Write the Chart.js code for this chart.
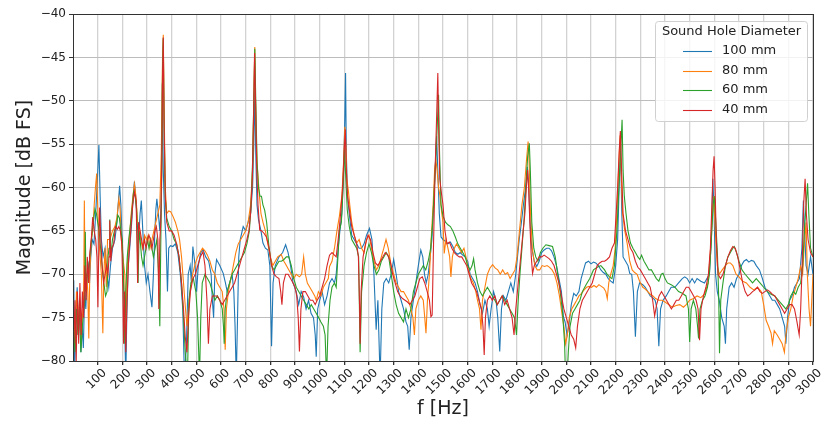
<!DOCTYPE html>
<html>
<head>
<meta charset="utf-8">
<script src="https://cdn.jsdelivr.net/npm/chart.js@4/dist/chart.umd.min.js"></script>
<style>
html,body{margin:0;padding:0;background:#fff;}
#wrap{width:827px;height:421px;}
</style>
</head>
<body>
<div id="wrap"><canvas id="c" width="827" height="421"></canvas></div>
<script>
// ---- data (frequency Hz, magnitude dB FS) ----
const seriesNames = ["100 mm", "80 mm", "60 mm", "40 mm"];
const xTicks = [100,200,300,400,500,600,700,800,900,1000,1100,1200,1300,1400,1500,1600,1700,1800,1900,2000,2100,2200,2300,2400,2500,2600,2700,2800,2900,3000];
const yTicks = [-80,-75,-70,-65,-60,-55,-50,-45,-40];

const s100 = [[3,-70.7],[7,-81],[12,-74],[17,-71.5],[22,-77],[27,-73],[32,-79],[37,-76],[42,-78.5],[47,-72],[52,-74],[57,-70],[62,-69],[67,-71],[72,-68],[78,-66],[85,-66.5],[92,-63],[99,-59],[105,-55.1],[110,-61],[115,-66],[122,-68],[130,-67],[138,-70],[145,-71.5],[152,-69],[160,-67],[170,-66],[178,-64],[183,-62],[189,-59.8],[194,-62],[199,-66],[204,-70],[208,-74],[214,-82],[218,-75],[224,-69],[230,-67],[238,-64],[244,-61],[249,-59.3],[254,-61],[260,-64],[266,-66],[272,-63],[277,-61.5],[283,-65],[290,-69],[297,-71],[304,-70],[312,-72],[320,-73.8],[326,-70],[332,-65],[336,-62.5],[340,-61.3],[346,-63],[352,-65],[358,-62],[362,-48],[366,-58],[371,-63],[377,-66],[383,-72],[388,-67],[395,-66.7],[405,-66.8],[415,-66.5],[425,-67.5],[435,-70],[445,-74],[452,-82],[460,-78],[467,-70],[475,-69],[480,-71],[486,-66.8],[495,-69],[501,-72],[508,-69],[518,-67.5],[528,-67.2],[538,-68],[550,-68.5],[560,-70],[565,-73],[570,-75],[575,-70],[582,-68.3],[595,-69],[609,-69.9],[618,-71],[625,-72],[635,-71],[645,-70],[652,-72],[657,-76],[662,-82],[667,-75],[672,-68],[678,-66],[690,-64.5],[700,-65],[710,-64],[720,-63],[728,-60],[733,-55],[737,-49],[741,-56],[746,-62],[752,-63.7],[762,-65],[770,-66.4],[780,-67],[790,-67.2],[798,-69],[805,-78.3],[811,-71],[820,-69],[835,-68],[850,-67.5],[862,-66.6],[872,-67.5],[882,-69],[892,-71],[905,-72],[915,-73.5],[925,-72],[935,-72.6],[945,-74],[955,-73],[965,-74.5],[975,-75],[982,-77],[986,-79.5],[992,-74],[1000,-73],[1010,-72],[1020,-73.5],[1030,-72.5],[1040,-71],[1050,-70.5],[1060,-71],[1067,-70],[1075,-67],[1082,-65],[1090,-63],[1097,-58],[1102,-52],[1105,-46.8],[1108,-56],[1113,-61],[1120,-63],[1130,-65.5],[1140,-66],[1150,-66.5],[1160,-67],[1170,-67],[1180,-66.5],[1190,-65.5],[1202,-64.7],[1212,-66],[1220,-70],[1229,-76.4],[1236,-73],[1245,-82],[1252,-74],[1260,-71],[1270,-70.5],[1280,-71],[1290,-70],[1300,-68.3],[1310,-70],[1320,-72],[1330,-73],[1340,-74],[1350,-75.5],[1357,-76],[1363,-78.7],[1370,-75],[1380,-73],[1390,-71],[1400,-69],[1410,-67.2],[1418,-68],[1425,-70],[1432,-71],[1440,-70],[1448,-68],[1455,-66],[1462,-62],[1468,-58],[1474,-54.1],[1479,-58],[1485,-63],[1492,-65.7],[1500,-66],[1510,-66.2],[1520,-66.5],[1530,-66.3],[1540,-66.8],[1550,-67.5],[1560,-67.7],[1570,-67.5],[1580,-67.8],[1590,-68],[1600,-68.5],[1610,-70],[1620,-70.5],[1630,-71],[1640,-72],[1650,-73.5],[1660,-74.5],[1670,-73],[1680,-74],[1687,-76],[1695,-74],[1705,-72],[1715,-73],[1722,-75],[1730,-78.9],[1737,-74],[1745,-72.5],[1755,-73],[1765,-72],[1775,-71],[1785,-72],[1795,-70],[1802,-68],[1809,-66],[1818,-64],[1826,-62],[1835,-60],[1842,-57.6],[1848,-60],[1853,-64],[1860,-67],[1870,-68.5],[1880,-69.1],[1890,-68.5],[1900,-67.5],[1910,-67.2],[1920,-67],[1930,-67],[1940,-67.3],[1950,-68],[1960,-69],[1970,-70.5],[1980,-72],[1988,-74.9],[1995,-75.5],[2003,-77],[2010,-76],[2020,-73.5],[2030,-72.2],[2040,-72.5],[2051,-72],[2060,-70.5],[2070,-69.5],[2078,-68.7],[2090,-68.5],[2100,-68.8],[2110,-68.6],[2119,-68.7],[2130,-69],[2140,-69.5],[2150,-69.8],[2160,-70],[2170,-70.5],[2180,-70.8],[2190,-71],[2200,-69],[2208,-66],[2214,-60],[2220,-55],[2224,-62],[2230,-68],[2240,-68.5],[2250,-69],[2257,-69.9],[2265,-70],[2272,-72],[2280,-77.2],[2288,-72],[2297,-71],[2310,-71.2],[2320,-71.5],[2330,-72],[2340,-72.5],[2350,-72.7],[2360,-73],[2368,-74],[2375,-78.3],[2382,-74],[2392,-73],[2405,-72.5],[2415,-72],[2425,-71.5],[2440,-71.5],[2455,-71],[2470,-70.5],[2480,-70.3],[2490,-70.5],[2500,-71],[2510,-70.5],[2520,-71],[2530,-70.5],[2545,-70.8],[2560,-71],[2570,-70.5],[2580,-70],[2588,-66],[2594,-59],[2599,-63],[2605,-70],[2612,-72],[2620,-73],[2630,-75],[2640,-76],[2645,-78],[2650,-74],[2660,-71.5],[2670,-71],[2680,-71.5],[2690,-70.5],[2700,-70],[2710,-69],[2720,-68.5],[2730,-68.3],[2740,-68.6],[2750,-68.4],[2760,-68.5],[2770,-69],[2783,-69.5],[2795,-70.5],[2805,-71.5],[2815,-72],[2825,-72.5],[2835,-73],[2845,-73],[2855,-73.5],[2865,-74],[2875,-75],[2885,-76],[2890,-78],[2897,-75],[2905,-73],[2915,-72.5],[2925,-71.5],[2935,-71],[2945,-70.5],[2955,-67],[2961,-61.5],[2966,-65],[2972,-69],[2980,-70],[2990,-68],[3000,-70]];

const s80 = [[3,-74],[8,-78],[14,-72],[20,-76],[26,-73],[32,-78],[38,-75],[43,-73],[46,-61.5],[49,-72],[55,-70],[60,-72],[64,-77.4],[68,-70],[74,-66],[80,-65],[86,-62],[91,-60],[96,-58.4],[100,-62],[105,-66],[110,-68],[115,-70],[121,-76.8],[125,-70],[130,-67],[135,-71.5],[140,-66],[150,-66],[160,-65],[170,-64.5],[178,-63.5],[186,-61.3],[191,-62.5],[196,-66],[202,-68],[210,-70],[215,-75],[220,-69],[228,-66],[236,-63],[243,-61],[249,-59.6],[255,-61],[262,-64],[268,-64.5],[275,-66],[282,-67],[290,-65.5],[298,-66],[305,-65.5],[312,-67],[320,-66],[328,-65],[336,-64],[344,-63],[352,-62],[358,-56],[363,-45],[366,-42.4],[369,-50],[374,-60],[380,-63],[388,-62.7],[396,-62.8],[405,-63.3],[415,-64],[425,-65],[432,-66],[440,-68],[448,-71],[456,-74],[462,-76],[468,-74],[475,-72],[485,-70],[495,-68.8],[505,-68],[515,-67.5],[525,-67],[535,-67.3],[545,-67.8],[555,-68.5],[565,-69.5],[575,-70],[585,-71],[595,-71.5],[605,-72],[612,-74],[617,-78.7],[622,-74],[630,-72],[640,-70.5],[650,-69],[660,-67.5],[670,-66.5],[680,-66],[690,-65.5],[700,-65],[710,-64],[720,-62],[728,-58],[733,-50],[737,-43.8],[741,-52],[746,-57],[750,-58.7],[756,-61],[762,-63],[770,-64],[780,-65],[790,-66.5],[800,-68],[810,-69],[820,-68.5],[830,-68],[844,-67.7],[855,-68.5],[865,-69],[875,-69.5],[885,-70],[895,-70.5],[905,-70],[918,-70.3],[927,-70],[935,-68],[942,-70],[950,-71],[960,-71.5],[970,-72],[980,-72.5],[986,-73],[995,-72],[1005,-72.5],[1015,-71.5],[1025,-71],[1035,-70.5],[1040,-69.1],[1050,-68.5],[1060,-67],[1070,-65],[1080,-63.3],[1090,-61],[1097,-57],[1102,-53],[1106,-55],[1110,-59],[1116,-60.3],[1122,-62],[1130,-64],[1140,-65.5],[1150,-66.4],[1160,-66],[1170,-67],[1180,-67.5],[1190,-66],[1200,-65.5],[1210,-67],[1220,-68.5],[1230,-69.5],[1240,-69],[1250,-68],[1260,-67],[1269,-66],[1278,-67],[1290,-69],[1300,-70],[1310,-71],[1320,-71.5],[1330,-72],[1340,-72],[1350,-72.5],[1360,-73],[1370,-74],[1378,-75],[1384,-77],[1390,-74],[1400,-73],[1410,-72.5],[1420,-73],[1426,-75],[1431,-76.8],[1437,-73],[1445,-70],[1452,-66],[1460,-62],[1466,-58],[1471,-56.8],[1476,-58],[1482,-60],[1488,-61],[1495,-63],[1500,-64],[1505,-67.6],[1512,-66],[1520,-67],[1527,-68],[1532,-70.3],[1538,-68],[1546,-67],[1555,-66.5],[1565,-67],[1575,-67.5],[1585,-67],[1593,-68],[1603,-69.5],[1613,-70.5],[1623,-71],[1633,-72],[1640,-73],[1648,-74],[1654,-76.4],[1660,-73],[1670,-71.5],[1680,-70],[1690,-69.3],[1701,-68.9],[1712,-69.3],[1722,-69.5],[1732,-70],[1742,-69.5],[1752,-70],[1762,-69.8],[1772,-70.5],[1782,-70],[1792,-69.5],[1800,-68],[1810,-65],[1820,-62],[1830,-60],[1838,-57],[1845,-54.7],[1849,-57],[1855,-63],[1862,-67],[1872,-69],[1882,-69.5],[1892,-69.5],[1902,-69],[1912,-69.1],[1922,-69],[1932,-69.2],[1942,-69.5],[1952,-70],[1962,-71],[1972,-72.5],[1982,-74.5],[1990,-76],[1997,-78],[2004,-77],[2012,-75],[2022,-74],[2032,-73.5],[2042,-73],[2051,-72.5],[2062,-72.2],[2072,-71.8],[2082,-71.5],[2092,-71.4],[2102,-71.5],[2112,-71.3],[2122,-71.5],[2132,-71.2],[2142,-71.4],[2152,-71.6],[2160,-72],[2166,-72.8],[2172,-71],[2180,-70],[2190,-69],[2198,-67],[2205,-63],[2212,-58],[2218,-54],[2222,-58],[2228,-63],[2237,-65],[2247,-66.5],[2257,-68.5],[2267,-69.5],[2277,-69.8],[2287,-70],[2297,-70.8],[2310,-71.5],[2320,-71.7],[2330,-72],[2340,-72.3],[2351,-72.5],[2362,-72.8],[2375,-73],[2388,-73],[2400,-73.2],[2415,-73.5],[2430,-73.8],[2445,-73.6],[2460,-73.5],[2475,-73.8],[2486,-73.5],[2500,-73],[2515,-72.8],[2530,-72.5],[2545,-72.7],[2560,-72.3],[2575,-71],[2585,-67],[2592,-63],[2598,-61],[2604,-65],[2612,-69],[2620,-70],[2632,-69.5],[2645,-69],[2655,-68.7],[2665,-68.7],[2675,-69],[2688,-70],[2700,-70.3],[2715,-70.8],[2730,-71],[2745,-71.5],[2760,-71.8],[2775,-71.5],[2790,-72],[2800,-73.5],[2810,-75.3],[2820,-76],[2830,-76.8],[2836,-78],[2843,-76.5],[2855,-77],[2865,-77.5],[2875,-78],[2884,-79],[2890,-77],[2900,-75],[2910,-74],[2920,-72.5],[2930,-71.5],[2940,-70.5],[2950,-69.1],[2958,-70],[2966,-66],[2972,-64],[2977,-70],[2984,-74],[2990,-76],[3000,-70]];

const s60 = [[3,-76],[8,-79],[14,-74],[20,-77],[26,-74],[32,-79],[38,-76],[44,-74],[48,-73],[50,-65.1],[53,-72],[58,-70],[62,-70],[68,-68],[75,-66],[82,-64],[89,-62.5],[95,-63],[100,-64],[106,-65],[112,-67],[118,-69],[125,-71],[132,-72.5],[138,-72],[142,-68],[146,-67],[149,-63.7],[153,-68],[160,-66],[168,-65],[175,-64.5],[182,-63.2],[188,-63.5],[194,-65],[200,-66],[206,-72],[210,-78],[214,-72],[220,-68],[226,-66],[234,-64],[241,-62],[246,-60.5],[252,-61],[258,-62.5],[264,-71],[268,-65],[272,-66],[278,-68],[284,-69],[290,-68],[296,-67],[302,-66],[308,-67],[314,-66],[320,-67],[326,-68],[333,-67],[340,-66],[347,-70],[352,-76],[356,-66],[360,-58],[363,-46],[366,-42.8],[369,-52],[374,-61],[380,-63.5],[390,-64.5],[400,-65],[410,-66],[420,-66.5],[430,-68],[440,-71],[448,-75],[455,-79],[464,-82],[470,-73],[478,-71],[488,-70.5],[498,-72],[505,-75],[513,-82],[518,-75],[524,-71],[535,-70],[545,-70.5],[555,-71],[565,-72],[575,-73],[585,-72.5],[595,-73],[605,-74],[610,-76],[613,-78],[617,-74],[625,-72],[635,-71],[645,-70],[655,-69.5],[665,-69],[675,-68.5],[685,-68],[695,-67.5],[705,-66.5],[715,-65],[722,-62],[728,-57],[733,-50],[737,-44],[741,-50],[746,-57],[752,-60],[758,-61],[764,-61],[770,-62],[777,-62.6],[785,-64],[795,-67],[805,-69],[815,-69.5],[825,-69],[835,-68.5],[845,-68.5],[855,-68.3],[865,-68],[875,-68],[885,-69],[895,-70.5],[905,-71.5],[915,-72],[925,-72.5],[935,-73],[946,-73.5],[956,-74],[966,-73.5],[976,-74],[986,-74.5],[996,-75],[1005,-75.5],[1015,-76],[1022,-77],[1028,-82],[1034,-76],[1042,-73],[1050,-71.5],[1060,-71],[1067,-71.5],[1074,-68],[1080,-65],[1088,-64],[1095,-60],[1101,-55.6],[1106,-59],[1112,-62.6],[1120,-64.5],[1130,-66],[1140,-66.5],[1150,-67],[1158,-68],[1164,-79],[1170,-72],[1180,-69],[1190,-67.5],[1200,-66.5],[1210,-67.5],[1220,-69],[1230,-70],[1240,-69.5],[1250,-68.5],[1260,-68],[1270,-67.5],[1280,-68],[1290,-70],[1300,-72],[1310,-73.5],[1320,-74.5],[1330,-75],[1340,-75.5],[1350,-74],[1360,-75],[1370,-74],[1380,-72],[1390,-71],[1400,-70],[1410,-69.5],[1420,-69],[1430,-69.5],[1440,-68.5],[1450,-67],[1458,-64],[1465,-60],[1472,-56],[1478,-52],[1482,-49.3],[1486,-56],[1492,-62],[1500,-63.3],[1510,-64],[1520,-64.3],[1530,-64.5],[1540,-65],[1550,-65.7],[1560,-66.5],[1570,-67],[1580,-67.5],[1590,-68],[1600,-69],[1610,-69.5],[1618,-69],[1624,-68.2],[1630,-69.5],[1640,-71],[1650,-72],[1660,-72.5],[1670,-72],[1680,-71.5],[1690,-72],[1700,-72.5],[1710,-73],[1720,-73.5],[1730,-73],[1740,-72.5],[1750,-73],[1760,-73.5],[1770,-74],[1780,-74.5],[1790,-75],[1798,-77],[1805,-73],[1812,-70],[1820,-67],[1828,-64],[1836,-60],[1843,-56.5],[1850,-54.9],[1854,-58],[1860,-64],[1868,-67],[1876,-68],[1885,-68.5],[1895,-67.5],[1905,-67],[1917,-66.6],[1930,-66.7],[1944,-66.8],[1955,-68],[1965,-70],[1975,-72],[1985,-74.5],[1993,-78],[1997,-82],[2003,-82],[2008,-79],[2015,-76],[2025,-74.5],[2035,-74],[2045,-73.5],[2055,-73],[2065,-72],[2080,-71.2],[2095,-70.5],[2110,-69.5],[2125,-69.2],[2140,-69],[2155,-69.5],[2165,-70],[2175,-70.3],[2185,-70.5],[2195,-69],[2205,-65],[2213,-60],[2220,-56],[2226,-52.2],[2230,-58],[2235,-61],[2242,-63],[2250,-65],[2260,-66.4],[2270,-67],[2280,-67.5],[2290,-68],[2298,-68.3],[2305,-67.8],[2315,-68.5],[2325,-69],[2335,-69.5],[2345,-69.5],[2355,-70],[2365,-70.5],[2375,-70.8],[2385,-70],[2392,-69.9],[2400,-70.5],[2410,-71],[2425,-71.2],[2440,-71.5],[2455,-72],[2470,-72.2],[2485,-72.5],[2495,-74],[2500,-77.8],[2506,-74],[2515,-73],[2525,-74],[2532,-76],[2536,-77.4],[2542,-74],[2552,-73],[2562,-72.5],[2572,-71.5],[2580,-70],[2588,-66],[2595,-62],[2600,-61],[2606,-64],[2613,-68],[2618,-73],[2621,-79.1],[2626,-73],[2635,-71],[2645,-69],[2655,-68],[2665,-67.5],[2675,-67],[2681,-66.8],[2690,-67.5],[2700,-68.5],[2712,-69.5],[2725,-70],[2740,-70.5],[2755,-71],[2770,-70.5],[2785,-71],[2800,-71.5],[2815,-72],[2830,-72.3],[2845,-72.5],[2860,-73],[2875,-73.5],[2890,-74],[2900,-73.5],[2910,-72.5],[2920,-72],[2930,-72.3],[2940,-71.5],[2950,-71],[2958,-69],[2965,-65],[2972,-62],[2978,-59.5],[2983,-63],[2990,-67],[3000,-68]];

const s40 = [[3,-78],[8,-73],[13,-80],[18,-72],[23,-78],[28,-71],[33,-77],[38,-72],[43,-75],[48,-69],[53,-73],[58,-68],[63,-71],[68,-67.6],[74,-66],[80,-63.4],[86,-65],[92,-66],[97,-68],[101,-73.8],[105,-66],[108,-62.3],[113,-66],[118,-69],[124,-71],[130,-70],[136,-69],[142,-70],[146,-68],[149,-63.8],[153,-68.5],[158,-67],[165,-66.5],[172,-64.5],[180,-64.8],[186,-64.5],[192,-65],[198,-66.5],[202,-72],[205,-78],[209,-72],[214,-79],[219,-73],[226,-68],[234,-65],[242,-62],[249,-60.5],[256,-61.5],[262,-71],[266,-64],[272,-65],[278,-66],[284,-67],[290,-66],[296,-67],[302,-66],[308,-65.5],[314,-66],[320,-67],[326,-66],[332,-65],[338,-64.5],[344,-66],[348,-74],[352,-66],[356,-64],[360,-57],[363,-47],[366,-42.7],[369,-52],[374,-61],[380,-64],[390,-65],[400,-65],[410,-65.5],[420,-66.5],[430,-68],[440,-71],[448,-74],[455,-77.2],[462,-79],[468,-75],[476,-72],[486,-70.5],[496,-70],[506,-69],[516,-68],[527,-67.4],[535,-69],[543,-73],[549,-78],[555,-74],[565,-72.5],[575,-72.5],[585,-72.5],[595,-73],[605,-73.5],[615,-73],[625,-72.5],[635,-72],[645,-71.5],[655,-71],[665,-70],[675,-69],[685,-68],[695,-67],[705,-66],[713,-65],[720,-63],[727,-59],[732,-52],[736,-44.5],[740,-50],[745,-58],[750,-62],[757,-64.9],[765,-65],[775,-65.3],[784,-65.7],[795,-67],[805,-69],[815,-70],[825,-70.3],[835,-70.5],[842,-72],[847,-73.5],[853,-71],[862,-70],[872,-70],[882,-70.5],[892,-71],[900,-71.5],[907,-72.5],[913,-75],[918,-78.9],[924,-74],[932,-72],[942,-72],[952,-72.5],[962,-73],[972,-73],[982,-73.5],[990,-73],[1000,-72.5],[1010,-71.5],[1020,-70.5],[1030,-69],[1040,-67.8],[1050,-67.5],[1060,-67.8],[1067,-68],[1075,-66],[1085,-63],[1093,-60],[1099,-56],[1104,-53.3],[1108,-58],[1113,-61],[1120,-62.5],[1130,-64.5],[1140,-65.5],[1150,-66.5],[1157,-68],[1162,-74],[1164,-78],[1168,-72],[1176,-68],[1186,-66.5],[1196,-65.5],[1206,-66],[1216,-67.5],[1226,-68.7],[1236,-69],[1246,-68.5],[1256,-68],[1266,-67.5],[1276,-67.8],[1286,-68.5],[1296,-70],[1306,-71],[1316,-72],[1326,-72.5],[1336,-72.8],[1346,-73],[1356,-73.2],[1366,-73.5],[1376,-73],[1386,-72.5],[1396,-71.5],[1406,-70.5],[1416,-70.3],[1426,-71],[1436,-72],[1445,-73],[1451,-74.9],[1456,-74.7],[1462,-66],[1468,-58],[1474,-52],[1479,-46.8],[1483,-54],[1487,-59],[1492,-60.3],[1500,-62],[1508,-65],[1516,-66.5],[1526,-66.3],[1536,-67],[1546,-67.5],[1556,-67.8],[1566,-68],[1576,-68],[1586,-68.5],[1596,-69],[1606,-70],[1616,-71],[1626,-71.5],[1636,-72],[1646,-73],[1656,-74],[1662,-76],[1667,-79.3],[1672,-75],[1680,-73],[1690,-72.5],[1700,-73],[1710,-72.5],[1720,-73.5],[1730,-73],[1740,-72.5],[1750,-73.5],[1760,-73],[1770,-74],[1780,-75],[1788,-77],[1795,-74],[1805,-71],[1815,-68],[1825,-65],[1832,-63],[1838,-60],[1843,-58],[1847,-60],[1852,-64],[1858,-68],[1863,-69.9],[1870,-69],[1880,-68.5],[1890,-68],[1900,-68],[1910,-67.8],[1920,-68],[1930,-68.2],[1940,-68.5],[1950,-69],[1960,-70],[1970,-71],[1980,-72.5],[1990,-74],[2000,-75],[2010,-76],[2020,-77],[2030,-77.5],[2038,-78.5],[2045,-76],[2055,-74],[2065,-73],[2075,-72.5],[2085,-72],[2095,-71.5],[2105,-71],[2115,-70],[2125,-69],[2135,-68.7],[2145,-68.5],[2155,-68.5],[2165,-68.3],[2175,-68],[2185,-67],[2195,-66.4],[2202,-63],[2208,-60],[2214,-56],[2219,-53.5],[2224,-58],[2230,-63],[2240,-65],[2250,-66],[2260,-67],[2270,-67.5],[2280,-68.5],[2290,-69.2],[2300,-69.5],[2310,-70],[2320,-70.5],[2330,-71],[2340,-71.5],[2350,-73],[2358,-74.8],[2366,-73.5],[2376,-72.5],[2386,-72],[2396,-72.5],[2406,-73],[2416,-73.5],[2426,-74],[2436,-73.5],[2446,-73],[2456,-73],[2466,-72.5],[2476,-72],[2486,-71.5],[2496,-71.5],[2506,-72],[2516,-72.5],[2526,-73],[2534,-74],[2540,-77.6],[2546,-74],[2556,-72.5],[2566,-71.5],[2576,-70],[2584,-67],[2590,-62],[2595,-58],[2599,-56.4],[2603,-60],[2608,-66],[2615,-70],[2625,-70.5],[2635,-70],[2645,-69],[2655,-68],[2665,-67.3],[2675,-66.8],[2685,-67],[2695,-68],[2705,-69.5],[2715,-71],[2725,-72],[2735,-72.5],[2745,-72.3],[2755,-72],[2765,-71.8],[2775,-71.5],[2785,-72],[2795,-72.2],[2805,-72],[2815,-71.8],[2825,-72],[2835,-72.3],[2845,-72.5],[2855,-73],[2865,-73.5],[2875,-74],[2885,-74.5],[2895,-74],[2905,-73.5],[2915,-73.5],[2925,-74],[2935,-75.5],[2944,-77],[2950,-74],[2956,-69],[2962,-62],[2968,-59],[2973,-63],[2980,-66],[2990,-67.5],[3000,-68]];

const seriesData = [s100, s80, s60, s40];
const colors = ["#1f77b4", "#ff7f0e", "#2ca02c", "#d62728"];

const FONT = '"DejaVu Sans", "Liberation Sans", sans-serif';
Chart.defaults.font.family = FONT;
Chart.defaults.color = '#222';

const datasets = seriesData.map((s, i) => ({
  label: seriesNames[i],
  data: s.map(p => ({x: p[0], y: p[1]})),
  borderColor: colors[i],
  backgroundColor: colors[i],
  borderWidth: 1.1,
  pointRadius: 0,
  tension: 0,
  fill: false,
  order: 4 - i,
  clip: 0
}));

const framePlugin = {
  id: 'frame',
  afterDatasetsDraw(chart) {
    const {ctx, chartArea: a} = chart;
    ctx.save();
    ctx.strokeStyle = '#333';
    ctx.lineWidth = 1;
    ctx.strokeRect(Math.round(a.left) + 0.5, Math.round(a.top) + 0.5, Math.round(a.right - a.left), Math.round(a.bottom - a.top));
    ctx.restore();
  },
  afterDraw(chart) {
    const ctx = chart.ctx;
    ctx.save();
    const bx = 655.5, by = 21.5, bw = 152, bh = 100, r = 3;
    ctx.beginPath();
    ctx.moveTo(bx + r, by);
    ctx.lineTo(bx + bw - r, by);
    ctx.quadraticCurveTo(bx + bw, by, bx + bw, by + r);
    ctx.lineTo(bx + bw, by + bh - r);
    ctx.quadraticCurveTo(bx + bw, by + bh, bx + bw - r, by + bh);
    ctx.lineTo(bx + r, by + bh);
    ctx.quadraticCurveTo(bx, by + bh, bx, by + bh - r);
    ctx.lineTo(bx, by + r);
    ctx.quadraticCurveTo(bx, by, bx + r, by);
    ctx.closePath();
    ctx.fillStyle = 'rgba(255,255,255,0.8)';
    ctx.fill();
    ctx.strokeStyle = '#d0d0d0';
    ctx.lineWidth = 1;
    ctx.stroke();
    ctx.fillStyle = '#222';
    ctx.font = '13px ' + FONT;
    ctx.textAlign = 'center';
    ctx.textBaseline = 'middle';
    ctx.fillText('Sound Hole Diameter', bx + bw / 2, 32);
    ctx.textAlign = 'left';
    seriesNames.forEach((n, i) => {
      const y = 51 + i * 19.5;
      ctx.strokeStyle = colors[i];
      ctx.lineWidth = 1.1;
      ctx.beginPath();
      ctx.moveTo(683, Math.round(y) + 0.5);
      ctx.lineTo(712, Math.round(y) + 0.5);
      ctx.stroke();
      ctx.fillStyle = '#222';
      ctx.fillText(n, 722, y);
    });
    ctx.restore();
  }
};

new Chart(document.getElementById('c'), {
  type: 'line',
  data: {datasets},
  plugins: [framePlugin],
  options: {
    responsive: false,
    devicePixelRatio: 1,
    animation: false,
    events: [],
    layout: {padding: {top: 14, right: 14, left: 0, bottom: 0}},
    plugins: {legend: {display: false}, tooltip: {enabled: false}},
    scales: {
      x: {
        type: 'linear',
        min: 0,
        max: 3000,
        afterBuildTicks: (scale) => { scale.ticks = xTicks.map(v => ({value: v})); },
        afterFit: (scale) => { scale.height = 60; },
        grid: {color: '#d2d2d2', lineWidth: 1.3, drawTicks: true, tickLength: 4, tickColor: '#333'},
        border: {display: true, color: '#333', width: 1},
        ticks: {
          autoSkip: false,
          minRotation: 45,
          maxRotation: 45,
          padding: 1,
          labelOffset: 7,
          font: {size: 12},
          color: '#222',
          callback: (v) => String(v)
        },
        title: {display: true, text: 'f [Hz]', font: {size: 19}, color: '#222', padding: {top: 0, bottom: 1}}
      },
      y: {
        min: -80,
        max: -40,
        afterBuildTicks: (scale) => { scale.ticks = yTicks.map(v => ({value: v})); },
        afterFit: (scale) => { scale.width = 73; },
        grid: {color: '#bdbdbd', lineWidth: 1, drawTicks: true, tickLength: 4, tickColor: '#333'},
        border: {display: true, color: '#333', width: 1},
        ticks: {
          padding: 3,
          font: {size: 12},
          color: '#222',
          callback: (v) => String(v).replace('-', '\u2212')
        },
        title: {display: true, text: 'Magnitude [dB FS]', font: {size: 19}, color: '#222', padding: {top: 14, bottom: 0}}
      }
    }
  }
});
</script>
</body>
</html>
